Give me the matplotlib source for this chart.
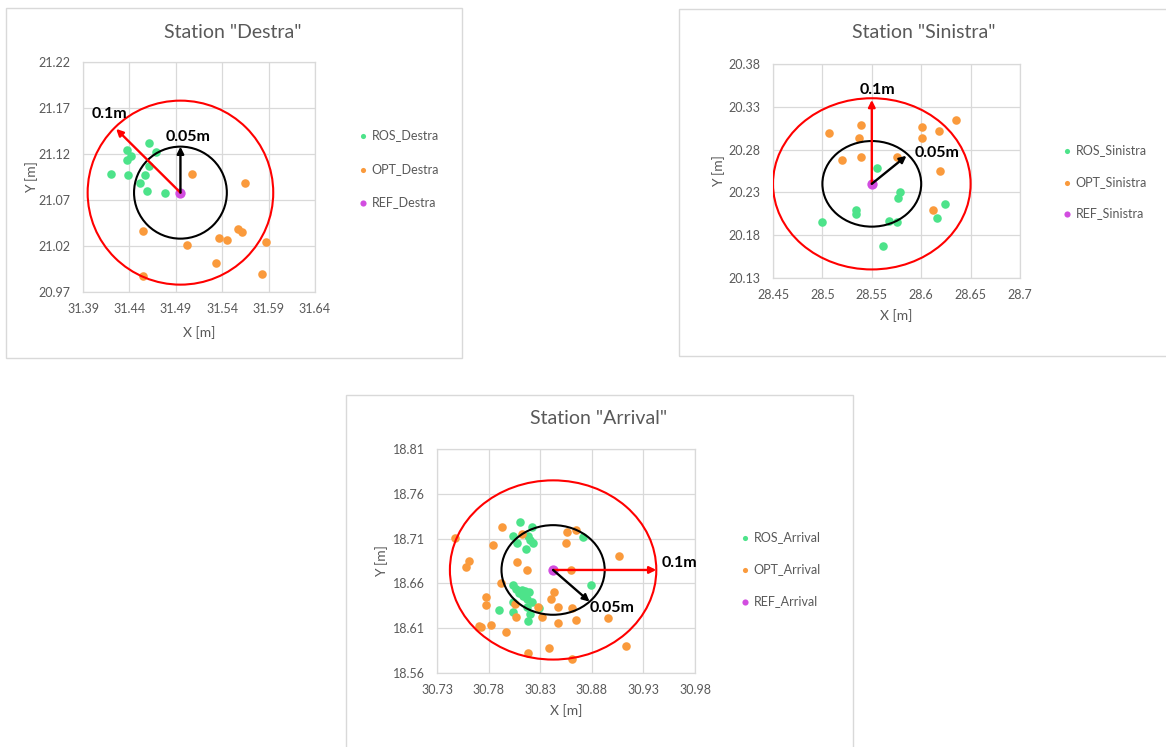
import matplotlib
matplotlib.use("Agg")
import numpy as np
import matplotlib.pyplot as plt
from matplotlib.patches import Circle, Rectangle

plt.rcParams['font.family'] = ['Lato', 'DejaVu Sans']

W, H = 1166, 747
GREY = "#595959"
GRID = "#d9d9d9"
C_ROS = "#4de38a"
C_OPT = "#fa9a3c"
C_REF = "#d24de0"

# ---------------- Station "Destra" ----------------
ROS_DESTRA_X = [31.461, 31.437, 31.442, 31.437, 31.469, 31.461, 31.420, 31.438,
                31.457, 31.451, 31.459, 31.478]
ROS_DESTRA_Y = [21.132, 21.124, 21.118, 21.114, 21.122, 21.107, 21.098, 21.097,
                21.097, 21.089, 21.080, 21.078]
OPT_DESTRA_X = [31.507, 31.565, 31.455, 31.557, 31.561, 31.537, 31.545, 31.502,
                31.587, 31.533, 31.583, 31.455]
OPT_DESTRA_Y = [21.098, 21.089, 21.036, 21.038, 21.035, 21.029, 21.026, 21.021,
                21.024, 21.001, 20.990, 20.987]
REF_DESTRA = (31.495, 21.078)
DESTRA_XTICKS = [31.39, 31.44, 31.49, 31.54, 31.59, 31.64]
DESTRA_YTICKS = [20.97, 21.02, 21.07, 21.12, 21.17, 21.22]

# ---------------- Station "Sinistra" ----------------
ROS_SINISTRA_X = [28.555, 28.579, 28.577, 28.534, 28.534, 28.500, 28.567, 28.576,
                  28.624, 28.616, 28.561]
ROS_SINISTRA_Y = [20.259, 20.231, 20.224, 20.209, 20.205, 20.196, 20.197, 20.196,
                  20.216, 20.200, 20.167]
OPT_SINISTRA_X = [28.507, 28.539, 28.537, 28.520, 28.539, 28.576, 28.601, 28.601,
                  28.618, 28.635, 28.619, 28.612]
OPT_SINISTRA_Y = [20.299, 20.309, 20.293, 20.268, 20.271, 20.271, 20.306, 20.294,
                  20.302, 20.315, 20.255, 20.210]
REF_SINISTRA = (28.550, 20.240)
SINISTRA_XTICKS = [28.45, 28.5, 28.55, 28.6, 28.65, 28.7]
SINISTRA_YTICKS = [20.13, 20.18, 20.23, 20.28, 20.33, 20.38]

# ---------------- Station "Arrival" ----------------
ROS_ARRIVAL_X = [30.810, 30.822, 30.804, 30.818, 30.820, 30.823, 30.808, 30.816,
                 30.871, 30.879, 30.804, 30.807, 30.812, 30.815, 30.819, 30.809,
                 30.813, 30.817, 30.822, 30.804, 30.817, 30.829, 30.790, 30.804,
                 30.820, 30.818]
ROS_ARRIVAL_Y = [18.729, 18.723, 18.713, 18.713, 18.708, 18.705, 18.705, 18.698,
                 18.712, 18.658, 18.658, 18.654, 18.653, 18.652, 18.650, 18.649,
                 18.646, 18.643, 18.639, 18.639, 18.634, 18.633, 18.630, 18.628,
                 18.626, 18.618]
OPT_ARRIVAL_X = [30.793, 30.812, 30.856, 30.865, 30.747, 30.784, 30.855, 30.906,
                 30.761, 30.758, 30.808, 30.817, 30.860, 30.792, 30.843, 30.777,
                 30.840, 30.777, 30.806, 30.828, 30.847, 30.861, 30.807, 30.832,
                 30.865, 30.896, 30.847, 30.771, 30.773, 30.782, 30.797, 30.839,
                 30.818, 30.861, 30.913]
OPT_ARRIVAL_Y = [18.723, 18.715, 18.717, 18.720, 18.711, 18.703, 18.705, 18.691,
                 18.685, 18.678, 18.684, 18.675, 18.675, 18.660, 18.650, 18.645,
                 18.643, 18.636, 18.637, 18.634, 18.634, 18.633, 18.623, 18.623,
                 18.619, 18.621, 18.616, 18.613, 18.611, 18.614, 18.606, 18.588,
                 18.582, 18.576, 18.590]
REF_ARRIVAL = (30.8425, 18.675)
ARRIVAL_XTICKS = [30.73, 30.78, 30.83, 30.88, 30.93, 30.98]
ARRIVAL_YTICKS = [18.56, 18.61, 18.66, 18.71, 18.76, 18.81]

# tolerance circles and arrows (radius in m, arrow angle in degrees)
RADII = [0.1, 0.05]
ARROW_ANGLES = {"Destra": [135, 90], "Sinistra": [90, 43], "Arrival": [0, -45]}
ARROW_LEN = {"Destra": [0.098, 0.05], "Sinistra": [0.098, 0.048], "Arrival": [0.1, 0.05]}
RADIUS_LABELS = ["0.1m", "0.05m"]

# layout in pixels: frame box, plot area, title, legend marker x / centre y
LAYOUT = {
    "Destra": dict(frame=(6, 8, 462, 358), plot=(83, 62, 315, 292), title=(233, 32),
                   legend=(363, 169), lspace=1.72, xl=41, yl=51,
                   lbl=[(31.419, 21.163), (31.503, 21.138)]),
    "Sinistra": dict(frame=(679, 9, 1170, 356), plot=(773, 64, 1020, 278), title=(924, 32),
                     legend=(1067, 182), lspace=1.56, xl=38, yl=54,
                     lbl=[(28.556, 20.350), (28.616, 20.276)]),
    "Arrival": dict(frame=(346, 395, 853, 752), plot=(437, 449, 695, 673), title=(599, 419),
                    legend=(745, 569), lspace=1.6, xl=38, yl=55,
                    lbl=[(30.9645, 18.683), (30.8992, 18.6325)]),
}

PANELS = [
    ("Destra", ROS_DESTRA_X, ROS_DESTRA_Y, OPT_DESTRA_X, OPT_DESTRA_Y, REF_DESTRA,
     DESTRA_XTICKS, DESTRA_YTICKS),
    ("Sinistra", ROS_SINISTRA_X, ROS_SINISTRA_Y, OPT_SINISTRA_X, OPT_SINISTRA_Y, REF_SINISTRA,
     SINISTRA_XTICKS, SINISTRA_YTICKS),
    ("Arrival", ROS_ARRIVAL_X, ROS_ARRIVAL_Y, OPT_ARRIVAL_X, OPT_ARRIVAL_Y, REF_ARRIVAL,
     ARRIVAL_XTICKS, ARRIVAL_YTICKS),
]


def fx(px):
    return px / W


def fy(py):
    return 1 - py / H


def draw_panel(fig, name, rx, ry, ox, oy, ref, xt, yt):
    lay = LAYOUT[name]
    l, t, r, b = lay["frame"]
    fig.add_artist(Rectangle((fx(l), fy(b)), (r - l) / W, (b - t) / H,
                             transform=fig.transFigure, fill=False, ec=GRID, lw=1))

    l, t, r, b = lay["plot"]
    pw, ph = r - l, b - t
    ax = fig.add_axes([fx(l), fy(b), pw / W, ph / H])
    ax.set_xlim(xt[0], xt[-1])
    ax.set_ylim(yt[0], yt[-1])
    ax.set_xticks(xt)
    ax.set_xticklabels([f"{v:g}" for v in xt])
    ax.set_yticks(yt)
    ax.set_yticklabels([f"{v:g}" for v in yt])
    ax.tick_params(length=0, labelsize=9, labelcolor=GREY)
    ax.tick_params(axis="x", pad=8)
    ax.tick_params(axis="y", pad=9)
    ax.grid(True, color=GRID, lw=0.9)
    ax.set_axisbelow(True)
    for sp in ax.spines.values():
        sp.set_color(GRID)
        sp.set_linewidth(0.9)

    ax.scatter(rx, ry, s=38, color=C_ROS, lw=0, label=f"ROS_{name}", zorder=3)
    ax.scatter(ox, oy, s=38, color=C_OPT, lw=0, label=f"OPT_{name}", zorder=3)
    ax.scatter([ref[0]], [ref[1]], s=55, color=C_REF, lw=0, label=f"REF_{name}", zorder=3)

    for rad, col, ang, ln, txt, pos in zip(RADII, ["#ff0000", "black"], ARROW_ANGLES[name],
                                           ARROW_LEN[name], RADIUS_LABELS, lay["lbl"]):
        ax.add_patch(Circle(ref, rad, fill=False, ec=col, lw=1.5, zorder=4))
        a = np.deg2rad(ang)
        tip = (ref[0] + ln * np.cos(a), ref[1] + ln * np.sin(a))
        ax.annotate("", xy=tip, xytext=ref,
                    arrowprops=dict(arrowstyle="-|>", color=col, lw=1.7,
                                    mutation_scale=10, shrinkA=0, shrinkB=0),
                    zorder=5)
        ax.text(pos[0], pos[1], txt, ha="center", va="center", fontsize=11.5,
                fontweight="bold", color="black", zorder=6)

    ax.text(0.5, -lay["xl"] / ph, "X [m]", transform=ax.transAxes,
            ha="center", va="center", fontsize=10, color=GREY)
    ax.text(-lay["yl"] / pw, 0.5, "Y [m]", transform=ax.transAxes, ha="center",
            va="center", rotation=90, fontsize=10, color=GREY)

    tx, ty = lay["title"]
    fig.text(fx(tx), fy(ty), f'Station "{name}"', ha="center", va="center",
             fontsize=14, color=GREY)

    mx, my = lay["legend"]
    ax.legend(loc="center left", bbox_to_anchor=(fx(mx - 5), fy(my)),
              bbox_transform=fig.transFigure, frameon=False, borderpad=0,
              borderaxespad=0, handlelength=0.8, handletextpad=0.3,
              labelspacing=lay["lspace"], fontsize=9, labelcolor=GREY, markerscale=0.6)


def main():
    fig = plt.figure(figsize=(W / 100, H / 100), dpi=100)
    fig.patch.set_facecolor("white")
    for p in PANELS:
        draw_panel(fig, *p)
    fig.savefig("out.png", dpi=100, facecolor="white")
    plt.close(fig)


if __name__ == "__main__":
    main()
